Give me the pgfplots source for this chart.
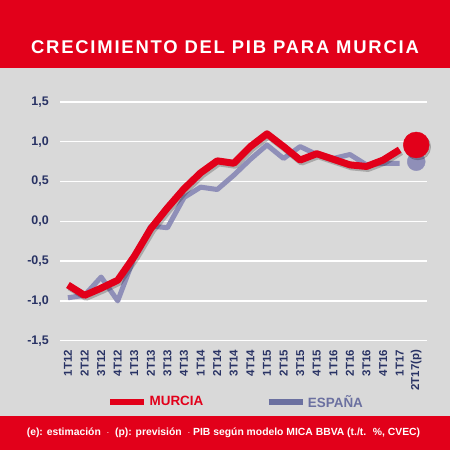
\documentclass[border=0pt]{standalone}
\usepackage{pgfplots}
\pgfplotsset{compat=1.18}
\usepackage{fontspec}
\setmainfont{Liberation Sans}
\setsansfont{Liberation Sans}
\newfontfamily\titlefont{Liberation Sans}[LetterSpace=9.7]
\definecolor{bgg}{RGB}{217,217,217}
\definecolor{mred}{RGB}{226,0,26}
\definecolor{eblue}{RGB}{143,143,184}
\definecolor{eleg}{RGB}{107,112,160}
\definecolor{navy}{RGB}{40,50,100}
\begin{document}
\begin{tikzpicture}
\useasboundingbox (0,0) rectangle (450bp,450bp);
\fill[bgg] (0,0) rectangle (450bp,450bp);
\fill[mred] (0,382bp) rectangle (450bp,450bp);
\fill[mred] (0,0) rectangle (450bp,34bp);
\node[text=white, font=\titlefont\bfseries\fontsize{18.5}{19}\selectfont] at (225bp,403bp) {CRECIMIENTO DEL PIB PARA MURCIA};
\node[text=white, font=\bfseries\fontsize{10.4}{11}\selectfont] at (223.5bp,17bp) {(e): estimación \ $\cdot$ \ (p): previsión \ $\cdot$ PIB según modelo MICA BBVA (t./t. \ \%, CVEC)};
\begin{axis}[
  at={(60bp,109.3bp)}, anchor=south west,
  scale only axis, width=366.7bp, height=238.7bp,
  xmin=-0.48, xmax=21.63, ymin=-1.5, ymax=1.5,
  clip=false,
  axis line style={draw=none},
  major tick length=0pt,
  ymajorgrids, major grid style={white, line width=1.3bp},
  ytick={-1.5,-1,-0.5,0,0.5,1,1.5},
  xtick={0,...,21},
  xticklabels={1T12,2T12,3T12,4T12,1T13,2T13,3T13,4T13,1T14,2T14,3T14,4T14,1T15,2T15,3T15,4T15,1T16,2T16,3T16,4T16,1T17,2T17(p)},
  xticklabel style={rotate=90, anchor=east, inner sep=0pt, text=navy, font=\bfseries\fontsize{11.5}{12}\selectfont},
  xticklabel shift=9bp,
  yticklabel style={anchor=east, inner sep=0pt, text=navy, font=\bfseries\fontsize{12.5}{12.5}\selectfont, xshift=-11bp,
     /pgf/number format/.cd, use comma, fixed, fixed zerofill, precision=1, assume math mode=true},
  legend columns=2,
  legend style={at={(0.48,-0.257)}, anchor=center, draw=none, fill=none, inner sep=0pt,
     font=\bfseries\fontsize{13.5}{13.5}\selectfont,
     /tikz/every even column/.append style={column sep=60bp}},
  legend image code/.code={\draw[#1, line width=6.5bp, line cap=butt] (0bp,0bp) -- (34bp,0bp);},
]
\addplot[eblue, line width=5bp, line join=round, forget plot] coordinates {
(0,-0.96) (1,-0.93) (2,-0.70) (3,-1.00) (4,-0.45) (5,-0.06) (6,-0.08) (7,0.30) (8,0.43) (9,0.40) (10,0.58) (11,0.78) (12,0.96) (13,0.79) (14,0.94) (15,0.84) (16,0.79) (17,0.84) (18,0.71) (19,0.73) (20,0.73)};
\addplot[only marks, mark=*, mark size=9bp, eblue, forget plot] coordinates {(21,0.75)};
\addplot[black, opacity=0.22, line width=7bp, line join=round, xshift=1.5bp, yshift=-2bp, forget plot] coordinates {
(0,-0.80) (1,-0.93) (2,-0.84) (3,-0.74) (4,-0.44) (5,-0.09) (6,0.17) (7,0.41) (8,0.61) (9,0.76) (10,0.73) (11,0.94) (12,1.10) (13,0.94) (14,0.77) (15,0.85) (16,0.78) (17,0.71) (18,0.69) (19,0.77) (20,0.90)};
\addplot[mred, line width=7bp, line join=round, forget plot] coordinates {
(0,-0.80) (1,-0.93) (2,-0.84) (3,-0.74) (4,-0.44) (5,-0.09) (6,0.17) (7,0.41) (8,0.61) (9,0.76) (10,0.73) (11,0.94) (12,1.10) (13,0.94) (14,0.77) (15,0.85) (16,0.78) (17,0.71) (18,0.69) (19,0.77) (20,0.90)};
\addplot[only marks, mark=*, mark size=13bp, black, opacity=0.2, xshift=1.5bp, yshift=-2bp, forget plot] coordinates {(21,0.96)};
\addplot[only marks, mark=*, mark size=13bp, mred, forget plot] coordinates {(21,0.96)};
\addlegendimage{mred}
\addlegendentry{\textcolor{mred}{MURCIA}}
\addlegendimage{eleg}
\addlegendentry{\textcolor{eleg}{ESPAÑA}}
\end{axis}
\end{tikzpicture}
\end{document}
